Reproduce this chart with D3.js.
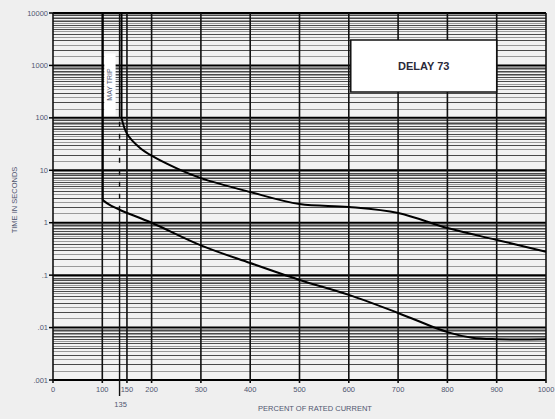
<!DOCTYPE html>
<html><head><meta charset="utf-8">
<script src="https://cdn.jsdelivr.net/npm/d3@7"></script>
<style>
html,body{margin:0;padding:0;background:#efefef;}
svg{display:block;}
text{font-family:"Liberation Sans",Arial,sans-serif;}
</style></head>
<body>
<script>
// ---- data ----
const xTicks = [0,100,150,200,300,400,500,600,700,800,900,1000];
const xSpecialTick = 135;
const yTicks = [0.001,0.01,0.1,1,10,100,1000,10000];
const yTickLabels = [".001",".01",".1","1","10","100","1000","10000"];
const minorMults = [1.5,2,2.5,3,3.5,4,4.5,5,5.5,6,6.5,7,7.5,8,8.5,9,9.5];
const majorMults = [2,3,4,5,6,7,8,9];
// minimum (lower) curve: percent of rated current, seconds
const lowerPct  = [101,101,115,136,200,300,400,500,600,700,800,850,900,1000];
const lowerSec  = [10000,2.7,2.18,1.75,1.0,0.37,0.17,0.081,0.042,0.019,0.0082,0.0064,0.006,0.006];
// maximum (upper) curve
const upperPct  = [139,139,150,176,200,250,300,400,500,600,700,800,900,1000];
const upperSec  = [10000,100,50,27,19,11,7.1,3.85,2.27,2.0,1.53,0.79,0.47,0.28];
const boxLabel = "DELAY 73";
const zoneLabel = "MAY TRIP";
const xTitle = "PERCENT OF RATED CURRENT";
const yTitle = "TIME IN SECONDS";

const W=555,H=419;
const svg=d3.select("body").append("svg").attr("width",W).attr("height",H);
const x=d3.scaleLinear().domain([0,1000]).range([53,546]);
const y=d3.scaleLog().domain([0.001,10000]).range([380,13]);
const labelColor="#4f5670";

// plot background
svg.append("rect").attr("x",x(0)).attr("y",y(10000)).attr("width",x(1000)-x(0)).attr("height",y(0.001)-y(10000)).attr("fill","#f2f2f2");

const g=svg.append("g");
// minor horizontal grid
const decades=yTicks.slice(0,-1);
const minorVals=[];decades.forEach(d=>minorMults.forEach(m=>minorVals.push(d*m)));
g.selectAll("line.minor").data(minorVals).enter().append("line")
 .attr("x1",x(0)).attr("x2",x(1000)).attr("y1",d=>Math.round(y(d))+0.5).attr("y2",d=>Math.round(y(d))+0.5)
 .attr("stroke","#9a9a9a").attr("stroke-width",1);
const majVals=[];decades.forEach(d=>majorMults.forEach(m=>majVals.push(d*m)));
g.selectAll("line.maj").data(majVals).enter().append("line")
 .attr("x1",x(0)).attr("x2",x(1000)).attr("y1",d=>Math.round(y(d))+0.5).attr("y2",d=>Math.round(y(d))+0.5)
 .attr("stroke","#4a4a4a").attr("stroke-width",1);
// decade lines
g.selectAll("line.dec").data(yTicks).enter().append("line")
 .attr("x1",x(0)).attr("x2",x(1000)).attr("y1",d=>y(d)).attr("y2",d=>y(d))
 .attr("stroke","#000").attr("stroke-width",2);
// vertical grid
g.selectAll("line.v").data(xTicks).enter().append("line")
 .attr("x1",d=>x(d)).attr("x2",d=>x(d)).attr("y1",y(10000)).attr("y2",y(0.001)+3)
 .attr("stroke","#111").attr("stroke-width",1.6);
// 135% line: solid above upper curve, dashed between curves, solid below, extending below axis
const lowerAt135 = lowerSec[lowerPct.indexOf(136)];
g.append("line").attr("x1",x(xSpecialTick)).attr("x2",x(xSpecialTick)).attr("y1",y(10000)).attr("y2",y(100))
 .attr("stroke","#111").attr("stroke-width",1.4);
g.append("line").attr("x1",x(xSpecialTick)).attr("x2",x(xSpecialTick)).attr("y1",y(100)+4).attr("y2",y(lowerAt135))
 .attr("stroke","#111").attr("stroke-width",1.4).attr("stroke-dasharray","5,7");
g.append("line").attr("x1",x(xSpecialTick)).attr("x2",x(xSpecialTick)).attr("y1",y(lowerAt135)).attr("y2",y(0.001)+16)
 .attr("stroke","#111").attr("stroke-width",1.4);

// y tick marks + labels
g.selectAll("line.yt").data(yTicks).enter().append("line")
 .attr("x1",x(0)-4).attr("x2",x(0)).attr("y1",d=>y(d)).attr("y2",d=>y(d)).attr("stroke","#000").attr("stroke-width",1.5);
g.selectAll("text.yl").data(yTicks).enter().append("text")
 .attr("x",x(0)-5).attr("y",d=>y(d)+2.5).attr("text-anchor","end").attr("font-size",7.5).attr("fill",labelColor)
 .text((d,i)=>yTickLabels[i]);
// x labels
g.selectAll("text.xl").data(xTicks).enter().append("text")
 .attr("x",d=>x(d)).attr("y",y(0.001)+12).attr("text-anchor","middle").attr("font-size",7.5).attr("fill",labelColor)
 .text(d=>d);
g.append("text").attr("x",x(xSpecialTick)+1).attr("y",y(0.001)+27).attr("text-anchor","middle").attr("font-size",7.5).attr("fill",labelColor).text(xSpecialTick);
// axis titles
svg.append("text").attr("x",315).attr("y",411).attr("text-anchor","middle").attr("font-size",7.5).attr("fill",labelColor).text(xTitle);
svg.append("text").attr("transform","translate(17,200) rotate(-90)").attr("text-anchor","middle").attr("font-size",7.5).attr("fill",labelColor).text(yTitle);

// curves
const line=d3.line().x(d=>x(d[0])).y(d=>y(d[1])).curve(d3.curveCatmullRom.alpha(0.5));
const lowerPts=lowerPct.map((p,i)=>[p,lowerSec[i]]);
const upperPts=upperPct.map((p,i)=>[p,upperSec[i]]);
const straight=d3.line().x(d=>x(d[0])).y(d=>y(d[1]));
[lowerPts,upperPts].forEach(pts=>{
  g.append("path").attr("d",straight(pts.slice(0,2))).attr("fill","none").attr("stroke","#000").attr("stroke-width",2);
  g.append("path").attr("d",line(pts.slice(1))).attr("fill","none").attr("stroke","#000").attr("stroke-width",2);
});

// MAY TRIP label box
const mx0=x(104),mx1=x(127);
g.append("rect").attr("x",mx0).attr("y",y(1000)-12).attr("width",mx1-mx0).attr("height",y(110)-y(1000)+12).attr("fill","#fff");
g.append("text").attr("transform",`translate(${(mx0+mx1)/2+2.5},${(y(1000)-12+y(110))/2}) rotate(-90)`)
 .attr("text-anchor","middle").attr("font-size",7).attr("fill",labelColor).text(zoneLabel);

// DELAY box
g.append("rect").attr("x",x(604)).attr("y",40).attr("width",x(900)-x(604)).attr("height",52)
 .attr("fill","#fff").attr("stroke","#111").attr("stroke-width",1.5);
g.append("text").attr("x",(x(604)+x(900))/2).attr("y",70).attr("text-anchor","middle").attr("font-size",11).attr("font-weight","bold").attr("fill","#2a2a3a").text(boxLabel);
</script>
</body></html>
